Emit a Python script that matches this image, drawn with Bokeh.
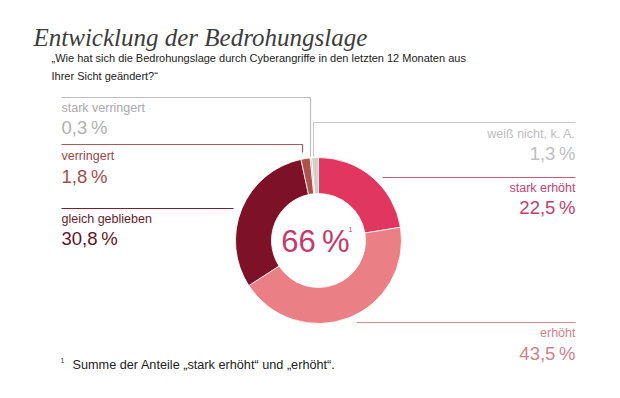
import math
from bokeh.plotting import figure
from bokeh.models import Range1d, ColumnDataSource
from bokeh.core.properties import value
from bokeh.embed import file_html
from bokeh.resources import INLINE

# ---- data ----
categories = ["stark erhöht", "erhöht", "gleich geblieben", "verringert", "stark verringert", "weiß nicht, k. A."]
shares = [22.5, 43.5, 30.8, 1.8, 0.3, 1.3]
slice_colors = ["#E1365F", "#EA7F86", "#7C1127", "#B0524B", "#C9ABA3", "#D6CDC9"]
center_value = "66"

title = "Entwicklung der Bedrohungslage"
question = ["„Wie hat sich die Bedrohungslage durch Cyberangriffe in den letzten 12 Monaten aus",
            "Ihrer Sicht geändert?“"]
footnote = "Summe der Anteile „stark erhöht“ und „erhöht“."

def pct(v):
    return ("%.1f" % v).replace(".", ",") + "\u2009%"

W, H = 604, 382
p = figure(width=W, height=H, x_range=Range1d(0, W), y_range=Range1d(-H, 0),
           output_backend="svg", toolbar_location=None, min_border=0)
p.axis.visible = False
p.grid.visible = False
p.outline_line_color = None
p.background_fill_color = "white"
p.border_fill_color = "white"

# ---- donut ----
total = sum(shares)
starts, ends = [], []
cum = 0.0
for v in shares:
    starts.append(math.pi / 2 - 2 * math.pi * cum / total)
    cum += v
    ends.append(math.pi / 2 - 2 * math.pi * cum / total)
src = ColumnDataSource(dict(start=starts, end=ends, color=slice_colors, cat=categories))
cx, cy = 318, -240
p.annular_wedge(x=cx, y=cy, inner_radius=47, outer_radius=83,
                inner_radius_units="screen", outer_radius_units="screen",
                start_angle="start", end_angle="end", direction="clock",
                fill_color="color", line_color="white", line_width=0.8, source=src)

# ---- leader lines ----
leaders = [
    ([61, 310, 310], [97, 97, 156], "#BDBDBD"),      # stark verringert
    ([61, 302, 302], [144, 144, 152], "#A65A5A"),    # verringert
    ([61, 233], [208, 208], "#7A2035"),              # gleich geblieben
    ([575, 313, 313], [122, 122, 156], "#C8C8C8"),   # weiß nicht
    ([382, 575], [177, 177], "#C95A7A"),             # stark erhöht
    ([356, 575], [322, 322], "#D98C97"),             # erhöht
]
for xs, ys, c in leaders:
    p.line(x=xs, y=[-y for y in ys], line_color=c, line_width=1.2)

F = value("Liberation Sans")

def txt(x, y, s, size, color, align="left", font=F, style="normal", baseline="middle"):
    p.text(x=[x], y=[-y], text=[s], text_font=font, text_font_size=value(f"{size}px"),
           text_color=color, text_align=align, text_baseline=baseline, text_font_style=style)

# title and question
txt(33, 37, title, 25, "#3D3D3D", font=value("Liberation Serif"), style="italic", baseline="alphabetic")
txt(51, 57, question[0], 11, "#222222")
txt(51, 75, question[1], 11, "#222222")

# left labels
idx = {c: i for i, c in enumerate(categories)}
left = [("stark verringert", 107, 127, "#A9A9A9", "#B0B0B0"),
        ("verringert", 155, 176, "#9A4848", "#A44E4E"),
        ("gleich geblieben", 218, 238, "#6C1A2C", "#5E1424")]
for c, y1, y2, c1, c2 in left:
    txt(61, y1, c, 12.5, c1)
    txt(61, y2, pct(shares[idx[c]]), 18.5, c2)

right = [("weiß nicht, k. A.", 133, 153, "#BDBDBD", "#C0C0C0"),
         ("stark erhöht", 187, 207, "#C24470", "#C23E6A"),
         ("erhöht", 332, 353, "#D4808C", "#D4808C")]
for c, y1, y2, c1, c2 in right:
    txt(575, y1, c, 12.5, c1, align="right")
    txt(575, y2, pct(shares[idx[c]]), 18.5, c2, align="right")

# center
txt(315, 241, center_value + "\u2009%", 31, "#C8386A", align="center")
txt(350, 229, "1", 7, "#C8386A", align="center")

# footnote
txt(62, 360, "1", 7, "#333333", align="center")
txt(72, 364, footnote, 12.7, "#222222")

open("out.html", "w").write(file_html(p, INLINE))
